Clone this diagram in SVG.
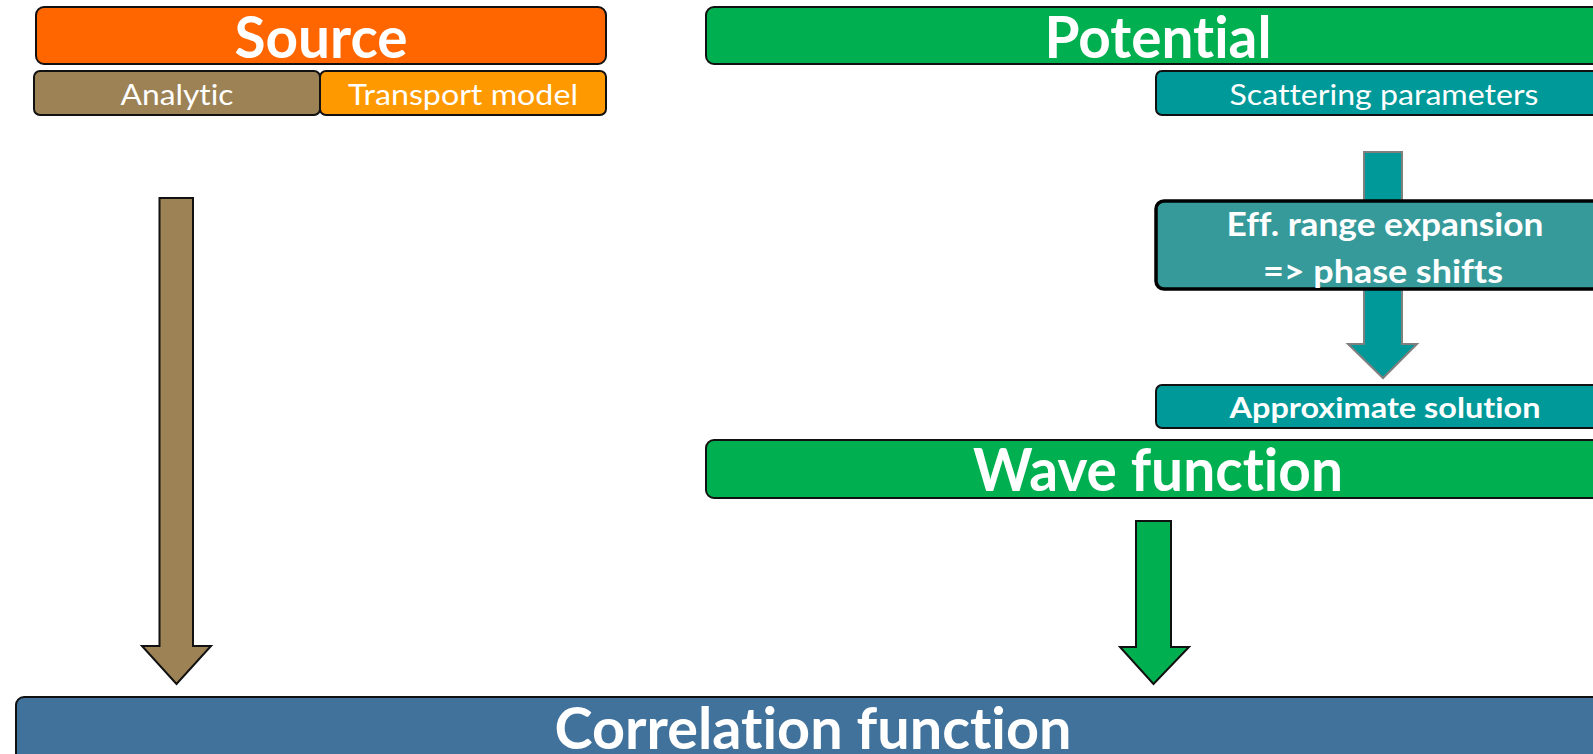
<svg xmlns="http://www.w3.org/2000/svg" width="1593" height="754" viewBox="0 0 1593 754">
<style>
.box{stroke:#111;stroke-width:2}
.arr{stroke:#111;stroke-width:2;stroke-linejoin:miter}
.t{font-family:Lato,"Open Sans","Liberation Sans",sans-serif;fill:#fff;text-anchor:middle;font-variant-ligatures:none;font-feature-settings:"liga" 0,"clig" 0}
.b{font-weight:bold}
</style>
<rect width="1593" height="754" fill="#fff"/>
<g id="connectors">
<polygon class="arr" fill="#9C8254" points="159.5,198 193,198 193,646 211,646 176.5,684 142,646 159.5,646"/>
<polygon class="arr" fill="#00B050" points="1136,521 1171,521 1171,647 1189,647 1153.5,684 1120,647 1136,647"/>
<polygon fill="#009999" stroke="#7f7f7f" stroke-width="2" points="1364,152 1402,152 1402,344 1417,344 1383,378 1348,344 1364,344"/>
</g>
<g id="source">
<rect class="box" x="36" y="7" width="570" height="57" rx="8" fill="#FF6600"/>
<text class="t b" x="321" y="58" font-size="57" textLength="173" lengthAdjust="spacingAndGlyphs">Source</text>
</g>
<g id="analytic">
<rect class="box" x="34" y="71" width="286" height="44" rx="6" fill="#9C8254"/>
<text class="t" x="177" y="105" font-size="28" textLength="113" lengthAdjust="spacingAndGlyphs">Analytic</text>
</g>
<g id="transport">
<rect class="box" x="320" y="71" width="286" height="44" rx="6" fill="#FF9900"/>
<text class="t" x="463" y="105" font-size="28" textLength="230" lengthAdjust="spacingAndGlyphs">Transport model</text>
</g>
<g id="potential">
<rect class="box" x="706" y="7" width="920" height="57" rx="8" fill="#00B050"/>
<text class="t b" x="1158" y="58" font-size="57" textLength="227" lengthAdjust="spacingAndGlyphs">Potential</text>
</g>
<g id="scattering">
<rect class="box" x="1156" y="71" width="470" height="44" rx="6" fill="#009999"/>
<text class="t" x="1384" y="105" font-size="28" textLength="309" lengthAdjust="spacingAndGlyphs">Scattering parameters</text>
</g>
<g id="effrange">
<rect x="1156" y="201" width="470" height="88" rx="8" fill="#369A9A" stroke="#000" stroke-width="3.5"/>
<text class="t b" x="1385" y="236" font-size="32" textLength="317" lengthAdjust="spacingAndGlyphs">Eff. range expansion</text>
<text class="t b" x="1383" y="283" font-size="32" textLength="240" lengthAdjust="spacingAndGlyphs">=&gt; phase shifts</text>
</g>
<g id="approx">
<rect class="box" x="1156" y="385" width="470" height="43" rx="6" fill="#009999"/>
<text class="t b" x="1385" y="418" font-size="28" textLength="311" lengthAdjust="spacingAndGlyphs">Approximate solution</text>
</g>
<g id="wave">
<rect class="box" x="706" y="440" width="920" height="58" rx="8" fill="#00B050"/>
<text class="t b" x="1158" y="491" font-size="60" textLength="370" lengthAdjust="spacingAndGlyphs">Wave function</text>
</g>
<g id="correlation">
<rect class="box" x="16" y="697" width="1610" height="70" rx="8" fill="#41729B"/>
<text class="t b" x="813" y="749" font-size="57" textLength="517" lengthAdjust="spacingAndGlyphs">Correlation function</text>
</g>
</svg>
